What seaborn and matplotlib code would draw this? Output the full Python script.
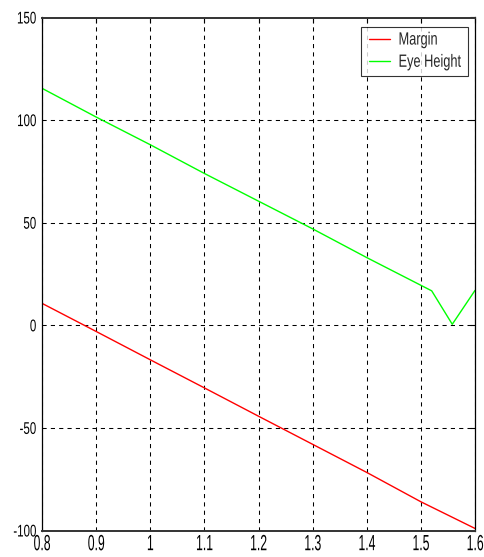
import matplotlib
matplotlib.use("Agg")
import matplotlib.pyplot as plt
import seaborn as sns
import pandas as pd
from matplotlib.patheffects import AbstractPathEffect
from matplotlib.transforms import Affine2D

# Data series
margin_x = [0.8, 0.9, 1.0, 1.1, 1.2, 1.3, 1.4, 1.5, 1.6]
margin_y = [10.7, -3.0, -16.8, -30.5, -44.3, -58.0, -71.7, -86.0, -99.0]

eye_x = [0.8, 0.9, 1.0, 1.1, 1.2, 1.3, 1.4, 1.5, 1.52, 1.558, 1.6]
eye_y = [115.5, 101.5, 88.0, 74.0, 60.5, 47.0, 33.0, 19.5, 16.8, 0.5, 17.0]

series_names = ["Margin", "Eye Height"]
series_colors = ["#ff0000", "#00ff00"]

x_ticks = [0.8, 0.9, 1.0, 1.1, 1.2, 1.3, 1.4, 1.5, 1.6]
x_tick_labels = ["0.8", "0.9", "1", "1.1", "1.2", "1.3", "1.4", "1.5", "1.6"]
y_ticks = [-100, -50, 0, 50, 100, 150]
y_tick_labels = ["-100", "-50", "0", "50", "100", "150"]


class Stretch(AbstractPathEffect):
    """Scale a text path about one of its own edges (condensed lettering)."""

    def __init__(self, sx=1.0, sy=1.0, anchor="center"):
        super().__init__()
        self.sx, self.sy, self.anchor = sx, sy, anchor

    def draw_path(self, renderer, gc, tpath, affine, rgbFace=None):
        ext = tpath.get_extents(affine)
        cx = (ext.x0 + ext.x1) / 2
        cy = (ext.y0 + ext.y1) / 2
        if self.anchor == "right":
            cx = ext.x1
        elif self.anchor == "left":
            cx = ext.x0
        elif self.anchor == "top":
            cy = ext.y1
        t = Affine2D().translate(-cx, -cy).scale(self.sx, self.sy).translate(cx, cy)
        renderer.draw_path(gc, tpath, affine + t, rgbFace)


df = pd.concat([
    pd.DataFrame({"x": margin_x, "y": margin_y, "series": series_names[0]}),
    pd.DataFrame({"x": eye_x, "y": eye_y, "series": series_names[1]}),
], ignore_index=True)

sns.set_theme(style="white")
plt.rcParams["font.family"] = ["Liberation Sans", "DejaVu Sans"]

fig = plt.figure(figsize=(4.85, 5.57), dpi=100)
ax = fig.add_axes([42 / 485, 26.5 / 557, 433 / 485, 513 / 557])

sns.lineplot(data=df, x="x", y="y", hue="series", hue_order=series_names,
             palette=series_colors, linewidth=1.0, ax=ax, sort=False,
             estimator=None)

ax.set_xlim(0.8, 1.6)
ax.set_ylim(-100, 150)
ax.set_xticks(x_ticks)
ax.set_xticklabels(x_tick_labels)
ax.set_yticks(y_ticks)
ax.set_yticklabels(y_tick_labels)
ax.set_xlabel("")
ax.set_ylabel("")

ax.grid(True, color="black", linestyle=(0, (4, 4)), linewidth=0.75)
ax.tick_params(direction="in", length=3.6, width=0.8, color="black",
               labelsize=12.2, labelcolor="black", top=True, right=True)
ax.tick_params(axis="x", pad=3.0)
ax.tick_params(axis="y", pad=4.0)
for s in ax.spines.values():
    s.set_color("black")
    s.set_linewidth(0.9)
ax.spines["bottom"].set_color("#333333")
ax.spines["bottom"].set_linewidth(1.4)
ax.spines["top"].set_color("#333333")
ax.spines["top"].set_linewidth(1.4)

for lbl in ax.get_xticklabels():
    lbl.set_path_effects([Stretch(0.72, 1.3, "top")])
for lbl in ax.get_yticklabels():
    lbl.set_path_effects([Stretch(0.68, 1.0, "right")])

leg = ax.legend(loc="upper right", bbox_to_anchor=(0.984, 0.981),
                borderaxespad=0, frameon=True, fancybox=False,
                edgecolor="black", fontsize=9.2, handlelength=1.72,
                handletextpad=0.63, borderpad=0.55, labelspacing=0.8)
leg.get_frame().set_linewidth(0.8)
for txt in leg.get_texts():
    txt.set_path_effects([Stretch(1.0, 1.39, "center")])

fig.savefig("out.png", dpi=100, facecolor="white")
